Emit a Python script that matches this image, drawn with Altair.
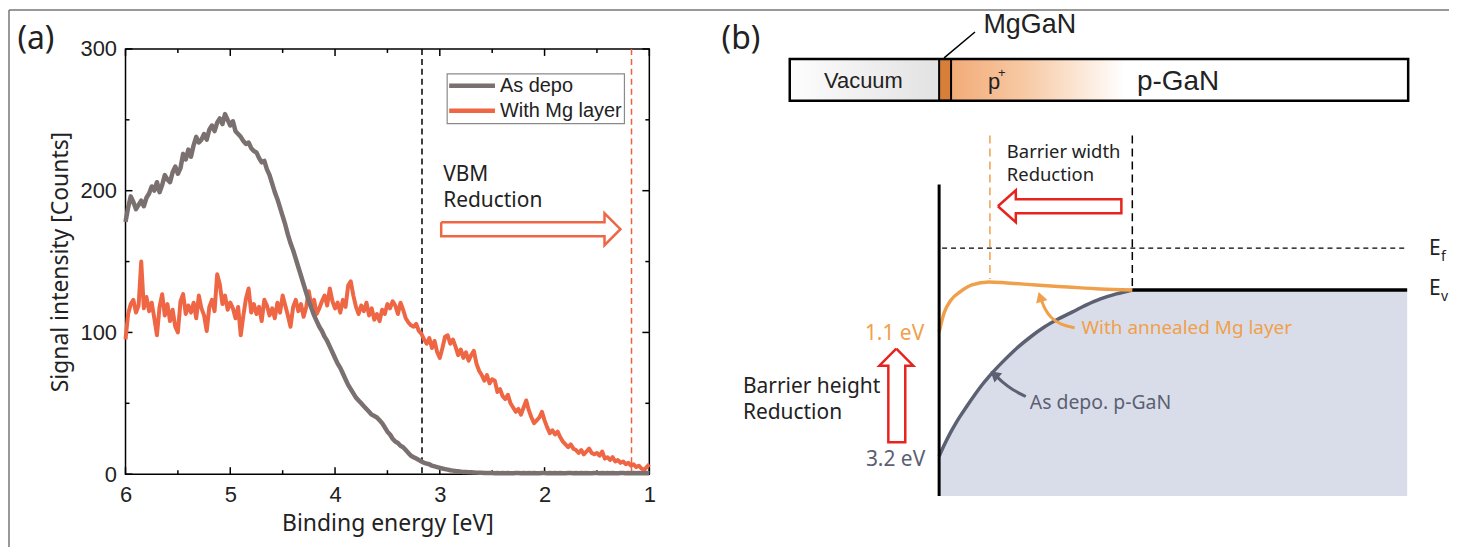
import altair as alt
import pandas as pd
import numpy as np

# ---------------- Panel (a) data ----------------
SERIES = ["As depo", "With Mg layer"]
COLORS = ["#7a7070", "#ee6644"]
X_TICKS = [6, 5, 4, 3, 2, 1]
X_MINOR = [5.5, 4.5, 3.5, 2.5, 1.5]
Y_TICKS = [0, 100, 200, 300]
Y_MINOR = [50, 150, 250]
VBM_AS_DEPO = 3.17
VBM_MG = 1.17

# As depo, 6.0 -> 1.0 eV, step 0.025
GRAY = [178, 188, 196, 192, 187, 190, 193, 189, 195, 198,
        203, 200, 206, 199, 204, 211, 208, 206, 213, 217,
        212, 216, 226, 222, 229, 224, 232, 238, 234, 236,
        240, 236, 243, 246, 242, 248, 251, 247, 254, 250,
        246, 249, 242, 240, 238, 235, 233, 234, 230, 228,
        227, 223, 220, 221, 215, 211, 205, 199, 194, 188,
        182, 176, 169, 163, 158, 152, 146, 140, 134, 128,
        122, 117, 112, 108, 104, 101, 97, 94, 90, 86,
        82, 78, 75, 71, 67, 63, 60, 57, 54, 52,
        50, 48, 46, 44, 42, 41, 40, 38, 36, 33,
        30, 28, 25, 23, 22, 20, 19, 17, 15, 13,
        12, 11, 10, 9, 8, 7.5, 7, 6, 5.5, 5,
        4.5, 4, 3.6, 3.2, 2.8, 2.5, 2.2, 2.0, 1.8, 1.6,
        1.5, 1.4, 1.3, 1.2, 1.1, 1.0, 1.0, 0.9, 0.9, 0.8,
        0.8, 0.7, 0.9, 0.7, 0.8, 0.6, 0.8, 0.7, 0.6, 0.8,
        0.8, 0.7, 0.9, 0.7, 0.8, 0.6, 0.8, 0.7, 0.6, 0.8,
        0.8, 0.7, 0.9, 0.7, 0.8, 0.6, 0.8, 0.7, 0.6, 0.8,
        0.8, 0.7, 0.9, 0.7, 0.8, 0.6, 0.8, 0.7, 0.6, 0.8,
        0.8, 0.7, 0.9, 0.7, 0.8, 0.6, 0.8, 0.7, 0.6, 0.8,
        0.8, 0.7, 0.9, 0.7, 0.8, 0.6, 0.8, 0.7, 0.6, 0.8,
        0.6]

# With Mg layer, 6.0 -> 1.0 eV, step 0.025
RED = [95, 113, 120, 123, 114, 119, 150, 117, 125, 115,
       121, 110, 98, 118, 127, 112, 120, 108, 116, 104,
       100, 122, 127, 113, 119, 114, 121, 110, 126, 117,
       112, 101, 118, 123, 115, 141, 134, 120, 126, 116,
       121, 117, 110, 118, 98, 112, 124, 131, 114, 120,
       113, 118, 108, 123, 119, 112, 117, 110, 121, 114,
       126, 119, 112, 104, 118, 123, 115, 120, 111, 118,
       129, 118, 123, 113, 117, 122, 126, 119, 131, 122,
       117, 121, 114, 123, 118, 133, 136, 126, 118, 113,
       119, 115, 121, 112, 117, 109, 113, 108, 116, 113,
       120, 117, 122, 119, 113, 121, 116, 110, 107, 105,
       104, 106, 101, 99, 95, 92, 96, 89, 94, 86,
       82, 89, 97, 98, 92, 95, 90, 84, 88, 82,
       86, 80, 84, 87, 78, 73, 70, 66, 70, 64,
       67, 66, 58, 60, 55, 53, 56, 50, 47, 44,
       46, 42, 47, 52, 45, 40, 36, 38, 40, 44,
       38, 33, 29, 31, 28, 30, 26, 23, 21, 19,
       21, 18, 17, 15, 17, 14, 16, 18, 15, 14,
       15, 13, 16, 11, 12, 10, 12, 9, 10, 8,
       9, 7, 8, 6, 7, 5, 6, 4, 3, 5,
       7]

# ---------------- Panel (b) labels ----------------
LBL_A = "(a)"
LBL_B = "(b)"
LBL_VBM = ["VBM", "Reduction"]
LBL_LAYERS = ["Vacuum", "p", "+", "p-GaN", "MgGaN"]
LBL_WIDTH = ["Barrier width", "Reduction"]
LBL_HEIGHT = ["Barrier height", "Reduction"]
LBL_EV = ["1.1 eV", "3.2 eV"]
LBL_CURVES = ["With annealed Mg layer", "As depo. p-GaN"]

ORANGE = "#f0a04b"
SLATE = "#5b6072"
RED_ARROW = "#e8231e"
TXT = "#222222"

# ---------------- Panel (a) ----------------
e_gray = np.round(np.linspace(6, 1, len(GRAY)), 3)
e_red = np.round(np.linspace(6, 1, len(RED)), 3)
df_gray = pd.DataFrame({"E": e_gray, "I": GRAY})
df_red = pd.DataFrame({"E": e_red, "I": RED})

XA = alt.Scale(domain=[1, 6], reverse=True, nice=False, zero=False)
YA = alt.Scale(domain=[0, 300], nice=False, zero=False)
AX_X = alt.Axis(values=X_TICKS, format="d", labelFont="Liberation Sans", labelFontSize=22,
                labelColor=TXT, labelPadding=10, labelFlush=False, labelOverlap=False,
                domain=False, ticks=False, tickSize=0, grid=False,
                title="Binding energy [eV]", titleFont="Noto Sans", titleFontSize=23,
                titleFontWeight="normal", titleColor=TXT, titlePadding=8)
AX_Y = alt.Axis(values=Y_TICKS, format="d", labelFont="Liberation Sans", labelFontSize=22,
                labelColor=TXT, labelPadding=9, labelFlush=False, labelOverlap=False,
                domain=False, ticks=False, tickSize=0, grid=False,
                title="Signal intensity [Counts]", titleFont="Noto Sans", titleFontSize=23,
                titleFontWeight="normal", titleColor=TXT, titlePadding=8)
ex = alt.X("E:Q", scale=XA, axis=AX_X)
ey = alt.Y("I:Q", scale=YA, axis=AX_Y)

red_line = alt.Chart(df_red).mark_line(color=COLORS[1], strokeWidth=4, strokeJoin="round").encode(x=ex, y=ey)
gray_line = alt.Chart(df_gray).mark_line(color=COLORS[0], strokeWidth=4.5, strokeJoin="round").encode(x=ex, y=ey)
dash_k = alt.Chart(pd.DataFrame({"E": [VBM_AS_DEPO]})).mark_rule(
    color="black", strokeWidth=1.5, strokeDash=[6, 4]).encode(x=ex)
dash_r = alt.Chart(pd.DataFrame({"E": [VBM_MG]})).mark_rule(
    color="#f0603e", strokeWidth=1.5, strokeDash=[6, 4]).encode(x=ex)

tick_rows = []
for v in X_TICKS + X_MINOR:
    L = 4.92 if v in X_TICKS else 2.8
    tick_rows += [(v, 0, v, L), (v, 300, v, 300 - L)]
for v in Y_TICKS + Y_MINOR:
    L = 0.0665 if v in Y_TICKS else 0.038
    tick_rows += [(6, v, 6 - L, v), (1, v, 1 + L, v)]
df_ticks = pd.DataFrame(tick_rows, columns=["E", "I", "E2", "I2"])
ticks = alt.Chart(df_ticks).mark_rule(color="black", strokeWidth=1.5).encode(
    x=ex, y=ey, x2=alt.X2("E2"), y2=alt.Y2("I2"))

panelA = alt.layer(ticks, dash_k, dash_r, red_line, gray_line)

# ---------------- Panel (b) / annotations (figure units) ----------------
XB = alt.Scale(domain=[126, 652], nice=False, zero=False)
YB = alt.Scale(domain=[48, 475], nice=False, zero=False, reverse=True)
bx = alt.X("x:Q", scale=XB, axis=None)
by = alt.Y("y:Q", scale=YB, axis=None)


def segs(rows, color, width, dash=None):
    kw = dict(color=color, strokeWidth=width)
    if dash:
        kw["strokeDash"] = dash
    df = pd.DataFrame(rows, columns=["x", "y", "x2", "y2"])
    return alt.Chart(df).mark_rule(**kw).encode(x=bx, y=by, x2=alt.X2("x2"), y2=alt.Y2("y2"))


def poly(pts, color, width=2.5, interp="linear"):
    df = pd.DataFrame({"x": [p[0] for p in pts], "y": [p[1] for p in pts], "i": list(range(len(pts)))})
    return alt.Chart(df).mark_line(color=color, strokeWidth=width, interpolate=interp,
                                   strokeJoin="miter").encode(x=bx, y=by, order="i:Q")


def rect(x1, y1, x2, y2, **kw):
    df = pd.DataFrame({"x": [x1], "y": [y1], "x2": [x2], "y2": [y2]})
    return alt.Chart(df).mark_rect(**kw).encode(x=bx, y=by, x2=alt.X2("x2"), y2=alt.Y2("y2"))


def label(t, x, y, size, color=TXT, font="Noto Sans", align="left", baseline="middle"):
    df = pd.DataFrame({"x": [x], "y": [y], "t": [t]})
    return alt.Chart(df).mark_text(font=font, fontSize=size, color=color, align=align,
                                   baseline=baseline).encode(x=bx, y=by, text="t:N")


def grad(stops):
    return alt.LinearGradient(gradient="linear", x1=0, x2=1, y1=0, y2=0,
                              stops=[alt.GradientStop(offset=o, color=c) for o, c in stops])


layers = []
# outer frame of the figure
layers.append(segs([(9, 9, 1455, 9), (9, 9, 9, 548)], "#777777", 1.5))

# legend (a)
layers.append(rect(449, 73, 627, 123, fill="white", stroke="#8a8a8a", strokeWidth=1.2))
layers.append(segs([(451, 85, 497, 85)], COLORS[0], 4.5))
layers.append(segs([(451, 110, 497, 110)], COLORS[1], 4.5))
layers.append(label(SERIES[0], 502, 85, 20, font="Liberation Sans"))
layers.append(label(SERIES[1], 502, 110, 20, font="Liberation Sans"))

# VBM reduction
layers.append(label(LBL_VBM[0], 445, 175, 21))
layers.append(label(LBL_VBM[1], 445, 201, 21))
layers.append(poly([(443, 222), (607, 222), (607, 213), (623, 229), (607, 245),
                    (607, 236), (443, 236), (443, 222)], "#ee6644", 2.5))

# panel labels
layers.append(label(LBL_A, 36, 38, 32, align="center"))
layers.append(label(LBL_B, 744, 38, 32, align="center"))

# top layer bar
layers.append(rect(793, 58, 943, 100, fill=grad([(0, "#fdfdfd"), (1, "#e2e2e2")])))
layers.append(rect(955, 58, 1414, 100, fill=grad([(0, "#f2ab78"), (0.16, "#f7c9a4"), (0.38, "#ffffff"), (1, "#ffffff")])))
layers.append(rect(943, 58, 955, 100, fill="#d77f38", stroke="black", strokeWidth=2))
layers.append(rect(793, 58, 1414, 100, fillOpacity=0, stroke="black", strokeWidth=2.5))
layers.append(segs([(948, 57, 979, 31)], "black", 1.5))
layers.append(label(LBL_LAYERS[4], 1034, 24, 27, font="Liberation Sans", align="center"))
layers.append(label(LBL_LAYERS[0], 867, 80, 22, font="Liberation Sans", align="center"))
layers.append(label(LBL_LAYERS[1], 992, 88, 22, font="Liberation Sans", baseline="alphabetic"))
layers.append(label(LBL_LAYERS[2], 1002, 76, 13, font="Liberation Sans", baseline="alphabetic"))
layers.append(label(LBL_LAYERS[3], 1183, 81, 28, font="Liberation Sans", align="center"))

# band diagram
gray_curve = [(943, 457), (948, 446), (954, 434), (960, 423.5), (964, 417), (971, 406.5),
              (979, 395), (986, 385.5), (993, 377), (1007, 362), (1021, 348.5), (1035, 337),
              (1049, 327), (1063, 319), (1077, 312), (1091, 305), (1105, 299), (1121, 294),
              (1137, 290)]
orange_curve = [(943, 332), (948, 313), (955, 300), (964, 292), (976, 285), (993, 282),
                (1011, 283), (1040, 285), (1072, 287), (1105, 289), (1137, 290)]
df_fill = pd.DataFrame({"x": [p[0] for p in gray_curve] + [1413],
                        "y": [p[1] for p in gray_curve] + [290]})
df_fill["y2"] = 497
layers.append(alt.Chart(df_fill).mark_area(color="#d9dde9", interpolate="monotone").encode(
    x=bx, y=by, y2=alt.Y2("y2")))
layers.append(segs([(946, 248, 1413, 248)], "black", 1.2, [5, 4]))
layers.append(segs([(994, 135, 994, 279)], ORANGE, 1.5, [8, 5]))
layers.append(segs([(1137, 135, 1137, 289)], "black", 1.5, [8, 5]))
layers.append(poly(gray_curve, SLATE, 3.5, "monotone"))
layers.append(poly(orange_curve, ORANGE, 3.5, "monotone"))
layers.append(segs([(1137, 290, 1413, 290)], "black", 3.5))
layers.append(segs([(943, 184, 943, 497)], "black", 3))

# arrows
layers.append(poly([(1002, 206), (1020, 190), (1020, 199), (1126, 199), (1126, 213),
                    (1020, 213), (1020, 222), (1002, 206)], RED_ARROW, 2.5))
layers.append(poly([(900, 349), (917, 366), (909, 366), (909, 443), (892, 443),
                    (892, 366), (883, 366), (900, 349)], RED_ARROW, 2.5))
layers.append(poly([(1079, 328), (1065, 325), (1055, 318), (1049, 309), (1046, 301)], ORANGE, 3, "basis"))
layers.append(poly([(1030, 397), (1016, 390), (1007, 383), (1001, 377)], SLATE, 3, "basis"))
df_h1 = pd.DataFrame({"x": [1044.5], "y": [297]})
df_h2 = pd.DataFrame({"x": [998.5], "y": [375]})
layers.append(alt.Chart(df_h1).mark_point(shape="triangle-up", filled=True, size=140, angle=342,
                                          color=ORANGE, opacity=1).encode(x=bx, y=by))
layers.append(alt.Chart(df_h2).mark_point(shape="triangle-up", filled=True, size=140, angle=310,
                                          color=SLATE, opacity=1).encode(x=bx, y=by))

# band diagram text
layers.append(label(LBL_WIDTH[0], 1011, 152, 18.5))
layers.append(label(LBL_WIDTH[1], 1011, 175, 18.5))
layers.append(label(LBL_HEIGHT[0], 746, 387, 21))
layers.append(label(LBL_HEIGHT[1], 746, 414, 21))
layers.append(label(LBL_EV[0], 928, 334, 21, color=ORANGE, align="right"))
layers.append(label(LBL_EV[1], 929, 461, 21, color=SLATE, align="right"))
layers.append(label(LBL_CURVES[0], 1086, 328, 19, color=ORANGE))
layers.append(label(LBL_CURVES[1], 1034, 404, 19.5, color=SLATE))
layers.append(label("E", 1435, 249, 21))
layers.append(label("f", 1447, 257, 14))
layers.append(label("E", 1435, 289, 21))
layers.append(label("v", 1447, 297, 14))

panelB = alt.layer(*layers)

chart = alt.layer(panelA, panelB).resolve_scale(x="independent", y="independent").properties(
    width=526, height=427,
    autosize=alt.AutoSizeParams(type="none"),
    padding={"left": 118, "top": 40, "right": 803, "bottom": 73},
).configure_view(stroke="black", strokeWidth=1.5)

chart.save("out.html", embed_options={"renderer": "svg", "actions": False})
